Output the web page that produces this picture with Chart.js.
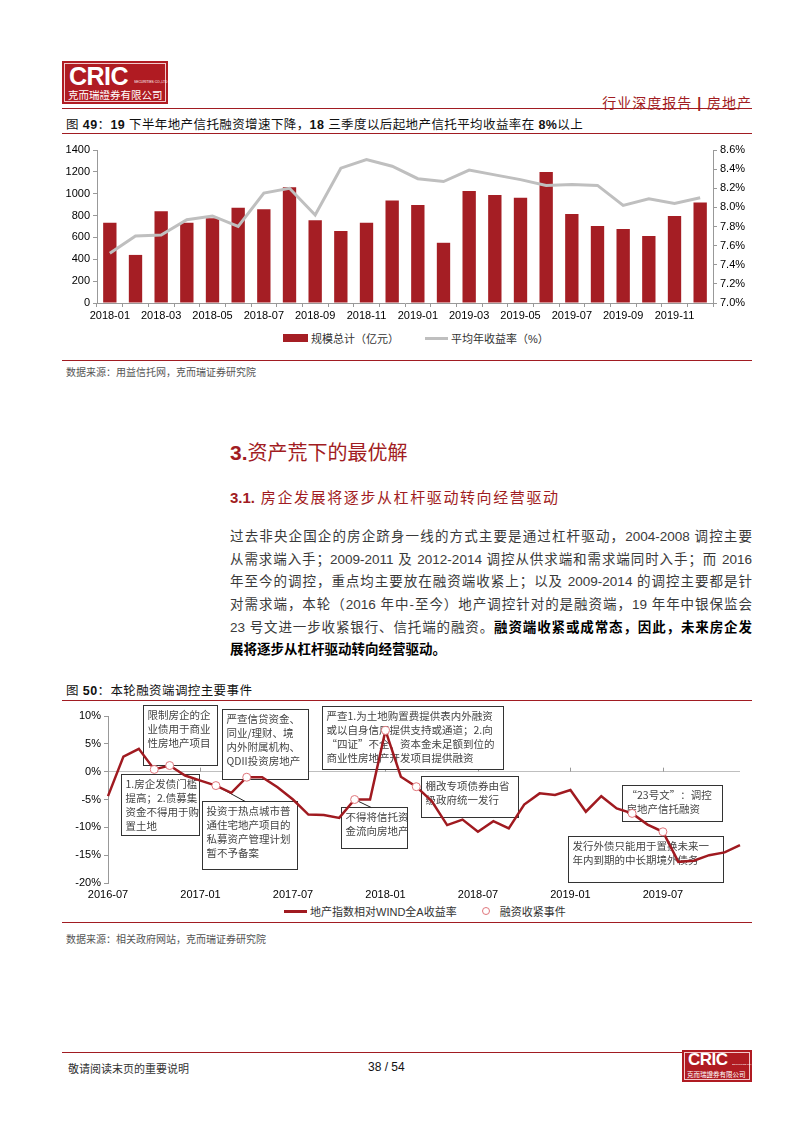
<!DOCTYPE html>
<html lang="zh">
<head>
<meta charset="UTF-8">
<title>行业深度报告 | 房地产</title>
<script src="https://cdn.jsdelivr.net/npm/chart.js"></script>
<style>
  body { margin: 0; background: #fff; font-family: "Liberation Sans", "Noto Sans CJK SC", sans-serif; color: #222; }
  .page { position: relative; width: 800px; height: 1131px; overflow: hidden; }
  .abs { position: absolute; }
  .rule { position: absolute; left: 62px; width: 690px; height: 1px; background: #A11C22; }
  .logo { position: absolute; background: #B01B22; box-sizing: border-box; }
  .logo .inner { position: absolute; left: 2px; top: 2px; right: 2px; bottom: 2px; border: 1px solid #f2c9cb; }
  .logo .big { position: absolute; color: #fff; font-weight: bold; font-family: "Liberation Sans"; letter-spacing: -0.5px; }
  .logo .tiny { position: absolute; color: #fff; font-size: 6px; transform-origin: left top; transform: scale(0.55); white-space: nowrap; }
  .logo .cn { position: absolute; color: #fff; white-space: nowrap; font-family: "Noto Sans CJK SC"; }
  .figtitle { position: absolute; left: 66px; font-size: 12.5px; color: #111; white-space: nowrap; letter-spacing: 0.4px; }
  .figtitle b { font-family: "Liberation Sans"; }
  .source { position: absolute; left: 66px; font-size: 10px; color: #555; white-space: nowrap; }
  .legend { position: absolute; font-size: 11px; color: #333; white-space: nowrap; display: flex; align-items: center; }
  .legend .sw { display: inline-block; margin-right: 3px; }
  .para div { position: absolute; left: 230px; width: 522px; font-size: 13.5px; color: #3a3a3a; text-align: justify; text-align-last: justify; white-space: nowrap; }
  .para div.last { text-align-last: left; }
  .para b { color: #000; font-weight: 600; }
  .chartbox { position: absolute; }
</style>
</head>
<body>
<div class="page">
  <!-- header -->
  <div class="logo" style="left:62px;top:61px;width:106px;height:43px;">
    <div class="inner"></div>
    <div class="big" style="left:7px;top:1px;font-size:25px;">CRIC</div>
    <div class="tiny" style="left:72px;top:19px;">SECURITIES CO.,LTD</div>
    <div class="cn" style="left:6px;top:26px;font-size:10.5px;">克而瑞證券有限公司</div>
  </div>
  <div class="abs" style="right:48px;top:92px;font-size:14px;color:#A11C22;letter-spacing:1px;">行业深度报告 <b style="font-family:'Liberation Sans'">|</b> 房地产</div>
  <div class="rule" style="top:108px;"></div>

  <div class="figtitle" style="top:114px;">图 <b>49</b>：<b>19</b> 下半年地产信托融资增速下降，<b>18</b> 三季度以后起地产信托平均收益率在 <b>8%</b>以上</div>
  <div class="rule" style="top:133px;"></div>

  <div class="chartbox" style="left:62px;top:140px;width:690px;height:186px;"><canvas id="trustChart"></canvas></div>
  <div class="legend" id="trustLegend" style="left:283px;top:330px;"></div>

  <div class="rule" style="top:360px;"></div>
  <div class="source" style="top:364px;">数据来源：用益信托网，克而瑞证券研究院</div>

  <!-- section text -->
  <div class="abs" style="left:230px;top:437px;font-size:20px;color:#A11C22;white-space:nowrap;"><b style="font-family:'Liberation Sans';font-size:21px;">3.</b>资产荒下的最优解</div>
  <div class="abs" style="left:230px;top:486px;font-size:15px;color:#A11C22;white-space:nowrap;letter-spacing:1.6px;"><b style="font-family:'Liberation Sans';letter-spacing:0;">3.1.</b> 房企发展将逐步从杠杆驱动转向经营驱动</div>

  <div class="para">
    <div style="top:525px;">过去非央企国企的房企跻身一线的方式主要是通过杠杆驱动，2004-2008 调控主要</div>
    <div style="top:548px;">从需求端入手；2009-2011 及 2012-2014 调控从供求端和需求端同时入手；而 2016</div>
    <div style="top:570px;">年至今的调控，重点均主要放在融资端收紧上；以及 2009-2014 的调控主要都是针</div>
    <div style="top:593px;">对需求端，本轮（2016 年中-至今）地产调控针对的是融资端，19 年年中银保监会</div>
    <div style="top:616px;">23 号文进一步收紧银行、信托端的融资。<b>融资端收紧或成常态，因此，未来房企发</b></div>
    <div class="last" style="top:638px;"><b>展将逐步从杠杆驱动转向经营驱动。</b></div>
  </div>

  <div class="figtitle" style="top:680px;">图 <b>50</b>：本轮融资端调控主要事件</div>
  <div class="rule" style="top:700px;"></div>

  <div class="chartbox" style="left:62px;top:702px;width:690px;height:200px;"><canvas id="eventChart"></canvas></div>
  <div class="legend" id="eventLegend" style="left:284px;top:903px;"></div>

  <div class="rule" style="top:922px;"></div>
  <div class="source" style="top:931px;">数据来源：相关政府网站，克而瑞证券研究院</div>

  <!-- footer -->
  <div class="abs" style="left:62px;top:1052px;width:620px;height:1px;background:#A11C22;"></div>
  <div class="abs" style="left:68px;top:1060px;font-size:11px;color:#333;">敬请阅读末页的重要说明</div>
  <div class="abs" style="left:368px;top:1060px;font-size:12px;color:#111;font-family:'Liberation Sans';">38 / 54</div>
  <div class="logo" style="left:682px;top:1050px;width:70px;height:32px;">
    <div class="inner"></div>
    <div class="big" style="left:6px;top:0px;font-size:17px;">CRIC</div>
    <div class="tiny" style="left:50px;top:13px;transform:scale(0.4);">SECURITIES CO.,LTD</div>
    <div class="cn" style="left:5px;top:19px;font-size:6.5px;">克而瑞證券有限公司</div>
  </div>
</div>

<script>
  // ---- 图49 数据 ----
  var trustMonths = ['2018-01', '2018-02', '2018-03', '2018-04', '2018-05', '2018-06', '2018-07', '2018-08', '2018-09', '2018-10', '2018-11', '2018-12',
                     '2019-01', '2019-02', '2019-03', '2019-04', '2019-05', '2019-06', '2019-07', '2019-08', '2019-09', '2019-10', '2019-11', '2019-12']
  var trustScale = [735, 440, 840, 735, 775, 872, 858, 1060, 757, 658, 735, 937,
                    897, 551, 1024, 988, 963, 1198, 815, 704, 678, 612, 796, 920]
  var trustYield = [7.52, 7.70, 7.71, 7.87, 7.91, 7.80, 8.15, 8.20, 7.92, 8.41, 8.50, 8.43,
                    8.30, 8.27, 8.39, 8.34, 8.29, 8.23, 8.24, 8.23, 8.02, 8.09, 8.04, 8.10]
  var trustScaleName = '规模总计（亿元）'
  var trustYieldName = '平均年收益率（%）'

  // ---- 图50 数据 ----
  var eventMonths = ['2016-07', '2016-08', '2016-09', '2016-10', '2016-11', '2016-12',
                     '2017-01', '2017-02', '2017-03', '2017-04', '2017-05', '2017-06',
                     '2017-07', '2017-08', '2017-09', '2017-10', '2017-11', '2017-12',
                     '2018-01', '2018-02', '2018-03', '2018-04', '2018-05', '2018-06',
                     '2018-07', '2018-08', '2018-09', '2018-10', '2018-11', '2018-12',
                     '2019-01', '2019-02', '2019-03', '2019-04', '2019-05', '2019-06',
                     '2019-07', '2019-08', '2019-09', '2019-10', '2019-11', '2019-12']
  var relReturn = [-4.4, 2.7, 4.1, 0.4, 1.1, -0.7,
                   -1.6, -2.5, -3.8, -1.0, -1.0, -2.8,
                   -5.0, -7.7, -7.8, -8.3, -5.0, -5.0,
                   7.4, -0.9, -2.7, -5.3, -9.6, -8.6,
                   -10.8, -8.9, -10.2, -5.9, -3.9, -4.2,
                   -3.3, -7.2, -4.4, -6.6, -7.5, -9.5,
                   -10.8, -16.2, -16.0, -15.0, -14.5, -13.2]
  var tighteningMonths = ['2016-10', '2016-11', '2017-02', '2017-04', '2017-11', '2018-01', '2018-03', '2019-05', '2019-07']
  var relReturnName = '地产指数相对WIND全A收益率'
  var tighteningName = '融资收紧事件'

  var eventNotes = [
    ['限制房企的企', '业债用于商业', '性房地产项目'],
    ['1.房企发债门槛', '提高；2.债募集', '资金不得用于购', '置土地'],
    ['严查信贷资金、', '同业/理财、境', '内外附属机构、', 'QDII投资房地产'],
    ['投资于热点城市普', '通住宅地产项目的', '私募资产管理计划', '暂不予备案'],
    ['严查1.为土地购置费提供表内外融资', '或以自身信用提供支持或通道；2.向', '“四证”不全、资本金未足额到位的', '商业性房地产开发项目提供融资'],
    ['不得将信托资', '金流向房地产'],
    ['棚改专项债券由省', '级政府统一发行'],
    ['“23号文”：调控', '房地产信托融资'],
    ['发行外债只能用于置换未来一', '年内到期的中长期境外债务']
  ]
  // 注释框位置（月份序号起止, 上沿%, 下沿%），以及引线指向的事件（-1 为无引线）
  var notePlacement = [
    [2.27, 7.07, 12.0, 1.27, -1],
    [0.84, 5.91, -0.36, -11.45, -1],
    [7.40, 12.98, 11.27, -1.27, -1],
    [6.10, 12.26, -5.27, -17.45, 2],
    [13.89, 25.63, 11.82, 0.55, -1],
    [15.12, 19.40, -6.36, -13.64, 4],
    [20.31, 26.61, -0.73, -8.18, -1],
    [33.35, 39.84, -2.36, -8.91, -1],
    [29.85, 39.91, -11.64, -19.82, -1]
  ]

  var tickFont = { family: 'Liberation Sans', size: 11 }

  function plotarTrust() {
    const ctx = document.getElementById('trustChart').getContext('2d')
    new Chart(ctx, {
      data: {
        labels: trustMonths,
        datasets: [{
          type: 'line',
          label: trustYieldName,
          data: trustYield,
          yAxisID: 'y1',
          borderColor: '#BFBFBF',
          borderWidth: 3,
          pointRadius: 0,
          tension: 0,
          order: 0
        }, {
          type: 'bar',
          label: trustScaleName,
          data: trustScale,
          yAxisID: 'y',
          backgroundColor: '#A51E24',
          barPercentage: 0.52,
          categoryPercentage: 1,
          order: 1
        }]
      },
      options: {
        responsive: true,
        maintainAspectRatio: false,
        animation: false,
        layout: { padding: { top: 10, left: 0, right: 0, bottom: 0 } },
        plugins: { legend: { display: false }, tooltip: { enabled: false } },
        scales: {
          x: {
            offset: true,
            grid: { display: true, drawOnChartArea: false, offset: true, tickLength: 4, color: '#999' },
            border: { color: '#999' },
            ticks: {
              font: tickFont, color: '#000', maxRotation: 0, autoSkip: false, padding: 2,
              callback: function (v, i) { return i % 2 === 0 ? trustMonths[i] : '' }
            },
            afterFit: function (s) { s.height = 23 }
          },
          y: {
            position: 'left', min: 0, max: 1400,
            grid: { drawOnChartArea: false, tickLength: 4, color: '#999' },
            border: { color: '#999' },
            ticks: {
              stepSize: 200, font: tickFont, color: '#000', padding: 3,
              callback: function (v) { return String(v) }
            },
            afterFit: function (s) { s.width = 35 }
          },
          y1: {
            position: 'right', min: 7.0, max: 8.6,
            grid: { drawOnChartArea: false, tickLength: 4, color: '#999' },
            border: { color: '#999' },
            ticks: {
              stepSize: 0.2, font: tickFont, color: '#000', padding: 3,
              callback: function (v) { return v.toFixed(1) + '%' }
            },
            afterFit: function (s) { s.width = 39 }
          }
        }
      }
    })
    trustLegend.innerHTML =
      '<span class="sw" style="width:25px;height:8px;background:#A51E24;"></span>' + trustScaleName +
      '<span class="sw" style="width:23px;height:3px;background:#BFBFBF;margin-left:26px;"></span>' + trustYieldName
  }

  // 注释框 + 零轴刻度
  const notesPlugin = {
    id: 'eventNotes',
    beforeDatasetsDraw(chart) {
      const c = chart.ctx
      const xs = chart.scales.x, ys = chart.scales.y
      const y0 = ys.getPixelForValue(0)
      c.save()
      c.strokeStyle = '#999'
      c.lineWidth = 1
      for (let i = 6; i < eventMonths.length; i += 6) {
        const x = Math.round(xs.getPixelForValue(i)) + 0.5
        c.beginPath(); c.moveTo(x, y0); c.lineTo(x, y0 - 4); c.stroke()
      }
      c.font = '10.5px "Noto Sans CJK SC"'
      c.textBaseline = 'middle'
      notePlacement.forEach(function (p, k) {
        const l = Math.round(xs.getPixelForValue(p[0])) + 0.5
        const r = Math.round(xs.getPixelForValue(p[1])) + 0.5
        const t = Math.round(ys.getPixelForValue(p[2])) + 0.5
        const b = Math.round(ys.getPixelForValue(p[3])) + 0.5
        c.fillStyle = '#fff'
        c.fillRect(l, t, r - l, b - t)
        c.strokeStyle = '#333'
        c.lineWidth = 1
        c.strokeRect(l, t, r - l, b - t)
        c.fillStyle = '#444'
        eventNotes[k].forEach(function (line, j) {
          c.fillText(line, l + 4, t + 10 + j * 14)
        })
        if (p[4] >= 0) {
          const idx = eventMonths.indexOf(tighteningMonths[p[4]])
          const mx = xs.getPixelForValue(idx), my = ys.getPixelForValue(relReturn[idx])
          c.strokeStyle = '#222'
          c.beginPath(); c.moveTo(mx, my); c.lineTo(l + (r - l) * 0.45, t); c.stroke()
        }
      })
      c.restore()
    }
  }

  function plotarEventos() {
    const markerData = eventMonths.map(function (m, i) {
      return tighteningMonths.indexOf(m) >= 0 ? relReturn[i] : null
    })
    const ctx = document.getElementById('eventChart').getContext('2d')
    new Chart(ctx, {
      type: 'line',
      data: {
        labels: eventMonths,
        datasets: [{
          label: relReturnName,
          data: relReturn,
          borderColor: '#A01A20',
          borderWidth: 2.5,
          pointRadius: 0,
          tension: 0,
          order: 1
        }, {
          label: tighteningName,
          data: markerData,
          showLine: false,
          pointRadius: 4,
          pointBorderWidth: 1,
          pointBorderColor: '#E0767C',
          pointBackgroundColor: '#fff',
          order: 0
        }]
      },
      options: {
        responsive: true,
        maintainAspectRatio: false,
        animation: false,
        layout: { padding: { top: 14, left: 0, right: 12, bottom: 0 } },
        plugins: { legend: { display: false }, tooltip: { enabled: false } },
        scales: {
          x: {
            offset: false,
            grid: { display: false, drawTicks: false },
            border: { display: false },
            ticks: {
              font: tickFont, color: '#000', maxRotation: 0, autoSkip: false, padding: 5,
              callback: function (v, i) { return i % 6 === 0 ? eventMonths[i] : '' }
            },
            afterFit: function (s) { s.height = 19 }
          },
          y: {
            min: -20, max: 10,
            grid: {
              color: function (c) { return c.tick && c.tick.value === 0 ? '#BFBFBF' : 'rgba(0,0,0,0)' },
              tickColor: '#999', tickLength: 4
            },
            border: { color: '#999' },
            ticks: {
              stepSize: 5, font: tickFont, color: '#000', padding: 3,
              callback: function (v) { return v + '%' }
            },
            afterFit: function (s) { s.width = 46 }
          }
        }
      },
      plugins: [notesPlugin]
    })
    eventLegend.innerHTML =
      '<span class="sw" style="width:23px;height:3px;background:#A01A20;"></span>' + relReturnName +
      '<span class="sw" style="width:6px;height:6px;border:1px solid #E0767C;border-radius:50%;margin-left:25px;margin-right:10px;"></span>' + tighteningName
  }

  plotarTrust()
  plotarEventos()
</script>
</body>
</html>
